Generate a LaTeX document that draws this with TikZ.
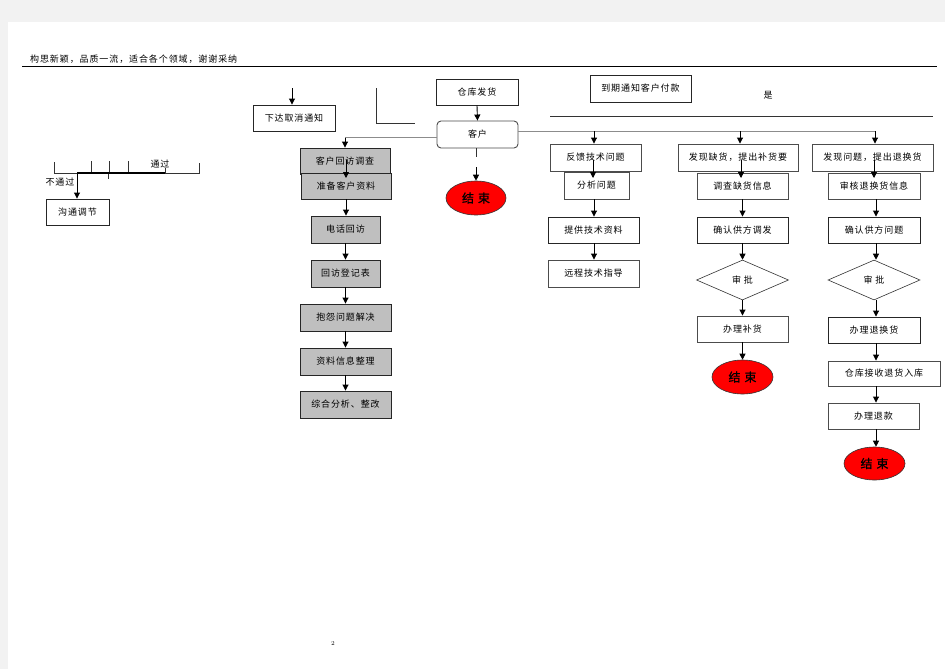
\documentclass[tikz,border=0pt]{standalone}
\usepackage{fontspec}
\newfontfamily\cjk[LetterSpace=10]{Noto Sans CJK SC}
\newfontfamily\cjkb[LetterSpace=10,FakeBold=1.2]{Noto Sans CJK SC}
\usetikzlibrary{shapes.geometric,arrows.meta}
\begin{document}
\begin{tikzpicture}[x=1pt,y=-1pt,
 box/.style={draw=black!85,line width=0.9pt,fill=white,inner sep=0pt,font=\fontsize{9}{10}\cjk},
 gbox/.style={box,fill=black!25},
 endo/.style={ellipse,draw=black!80,line width=0.6pt,fill=red,inner sep=0pt,font=\fontsize{12}{13}\cjkb},
 dia/.style={diamond,draw=black!80,line width=0.6pt,fill=white,inner sep=0pt,font=\fontsize{9}{10}\cjk},
 arr/.style={-{Triangle[length=6pt,width=6pt]},line width=0.9pt,black},
 gl/.style={line width=0.9pt,black!45},
 bl/.style={line width=0.8pt,black!80},
 txt/.style={inner sep=0pt,font=\fontsize{9}{10}\cjk}]
% page
\fill[black!5] (0,0) rectangle (945,669);
\fill[white] (8,22) rectangle (945,669);
\useasboundingbox (0,0) rectangle (945,669);
% header
\node[txt,anchor=west] (hd) at (30,59) {构思新颖，品质一流，适合各个领域，谢谢采纳};
\coordinate (h1) at (22,66); \coordinate (h2) at (937,66);
\draw[line width=0.9pt] (h1) -- (h2);
% top nodes
\node[box,minimum width=82pt,minimum height=26pt] (xd) at (294,118) {下达取消通知};
\node[box,minimum width=82pt,minimum height=26pt] (ck) at (477,92) {仓库发货};
\node[box,rounded corners=4pt,draw=black!70,minimum width=81pt,minimum height=27pt] (kh) at (477.5,134.5) {客户};
\node[box,minimum width=101pt,minimum height=27pt] (dq) at (640.5,88.5) {到期通知客户付款};
\node[txt] (shi) at (768,95) {是};
\node[endo,minimum width=60pt,minimum height=34pt] (e1) at (476,198) {结 束};
% left fragment
\node[box,minimum width=63pt,minimum height=26pt] (gt) at (77.5,212) {沟通调节};
\node[txt] (tg1) at (160,164) {通过};
\node[txt] (btg) at (60,182) {不通过};
\coordinate (f1) at (54,162); \coordinate (f2) at (54,173); \coordinate (f3) at (199,173); \coordinate (f4) at (199,163);
\draw[bl] (f1) -- (f2) -- (f3) -- (f4);
\foreach \x in {91,109,128} {\draw[bl] (\x,161) -- (\x,173);}
\draw[bl] (165,168) -- (165,173);
\draw[bl] (108,173) -- (108,179);
\coordinate (f5) at (77,173); \coordinate (f6) at (165,173);
\draw[line width=1.3pt] (f5) -- (f6);
\draw[arr] (f5) -- (f5 |- gt.north);
% other fragments
\coordinate (t1) at (292,88);
\draw[arr] (t1) -- (t1 |- xd.north);
\coordinate (g1) at (376,88); \coordinate (g2) at (376,123); \coordinate (g3) at (415,123);
\draw[bl] (g1) -- (g2) -- (g3);
\coordinate (y1) at (550,116); \coordinate (y2) at (933,116);
\draw[bl] (y1) -- (y2);
% left column
\node[gbox,minimum width=90pt,minimum height=26pt] (hf) at (345,161) {客户回访调查};
\node[gbox,minimum width=90pt,minimum height=26pt] (zb) at (346,186) {准备客户资料};
\node[gbox,minimum width=69pt,minimum height=27pt] (dh) at (345.5,229.5) {电话回访};
\node[gbox,minimum width=69pt,minimum height=27pt] (dj) at (345.5,273.5) {回访登记表};
\node[gbox,minimum width=91pt,minimum height=27pt] (bj) at (345.5,317.5) {抱怨问题解决};
\node[gbox,minimum width=91pt,minimum height=27pt] (zl) at (345.5,361.5) {资料信息整理};
\node[gbox,minimum width=91pt,minimum height=27pt] (zh) at (345.5,404.5) {综合分析、整改};
% column 1
\node[box,draw=black!70,minimum width=91pt,minimum height=27pt] (fk) at (595.5,157.5) {反馈技术问题};
\node[box,draw=black!70,minimum width=65pt,minimum height=27pt] (fx) at (596.5,185.5) {分析问题};
\node[box,minimum width=91pt,minimum height=26pt] (tj) at (593.5,230) {提供技术资料};
\node[box,draw=black!70,minimum width=91pt,minimum height=27pt] (yc) at (593.5,273.5) {远程技术指导};
% column 2
\node[box,draw=black!70,minimum width=120pt,minimum height=27pt] (fq) at (738,157.5) {发现缺货，提出补货要};
\node[box,draw=black!70,minimum width=91pt,minimum height=26pt] (dc) at (742.5,186) {调查缺货信息};
\node[box,minimum width=91pt,minimum height=26pt] (qr) at (742.5,230) {确认供方调发};
\node[dia,minimum width=92pt,minimum height=40pt] (sp1) at (742.5,280) {审\ 批};
\node[box,draw=black!70,minimum width=91pt,minimum height=26pt] (bh) at (742.5,329) {办理补货};
\node[endo,minimum width=61pt,minimum height=34pt] (e2) at (742.5,377) {结 束};
% column 3
\node[box,draw=black!70,minimum width=121pt,minimum height=27pt] (fw) at (872.5,157.5) {发现问题，提出退换货};
\node[box,draw=black!70,minimum width=92pt,minimum height=26pt] (sh) at (874,186) {审核退换货信息};
\node[box,minimum width=92pt,minimum height=26pt] (qw) at (874,230) {确认供方问题};
\node[dia,minimum width=92pt,minimum height=40pt] (sp2) at (874,280) {审\ 批};
\node[box,minimum width=92pt,minimum height=26pt] (bt) at (874,330) {办理退换货};
\node[box,draw=black!70,minimum width=112pt,minimum height=25pt] (cj) at (884,373.5) {仓库接收退货入库};
\node[box,draw=black!70,minimum width=91pt,minimum height=26pt] (bk) at (873.5,416) {办理退款};
\node[endo,minimum width=61pt,minimum height=33pt] (e3) at (874.5,463.5) {结 束};
% connectors from warehouse / customer
\draw[arr] (ck.south) -- (kh.north);
\coordinate (kl) at (345,137.5);
\draw[gl] ([yshift=-3pt]kh.west) -- (kl);
\draw[arr] (kl) -- (kl |- hf.north);
\coordinate (bus) at (875,131);
\draw[gl] ([yshift=3.5pt]kh.east) -- (bus);
\coordinate (b1) at (594,131); \coordinate (b2) at (740,131);
\draw[arr] (b1) -- (b1 |- fk.north);
\draw[arr] (b2) -- (b2 |- fq.north);
\draw[arr] (bus) -- (bus |- fw.north);
\coordinate (k1) at (476,157);
\coordinate (k2) at (476,167);
\draw[bl] (k1 |- kh.south) -- (k1);
\draw[arr] (k2) -- (k2 |- e1.north);
% left column arrows
\coordinate (o1) at (346,160); \coordinate (o2) at (346,178);
\draw[arr] (o1) -- (o2);
\draw[arr] (zb.south) -- (zb.south |- dh.north);
\draw[arr] (dh.south) -- (dh.south |- dj.north);
\draw[arr] (dj.south) -- (dj.south |- bj.north);
\draw[arr] (bj.south) -- (bj.south |- zl.north);
\draw[arr] (zl.south) -- (zl.south |- zh.north);
% column 1 arrows
\coordinate (p1) at (593,160); \coordinate (p2) at (593,178);
\draw[arr] (p1) -- (p2);
\coordinate (p3) at (594,199);
\draw[arr] (p3) -- (p3 |- tj.north);
\coordinate (p4) at (594,243);
\draw[arr] (p4) -- (p4 |- yc.north);
% column 2 arrows
\coordinate (q1) at (741,160); \coordinate (q2) at (741,178);
\draw[arr] (q1) -- (q2);
\draw[arr] (dc.south) -- (qr.north);
\draw[arr] (qr.south) -- (sp1.north);
\draw[arr] (sp1.south) -- (bh.north);
\draw[arr] (bh.south) -- (e2.north);
% column 3 arrows
\coordinate (r1) at (874,160); \coordinate (r2) at (874,178);
\draw[arr] (r1) -- (r2);
\coordinate (r3) at (876,199);
\draw[arr] (r3) -- (r3 |- qw.north);
\coordinate (r4) at (876,243);
\draw[arr] (r4) -- (r4 |- sp2.north);
\coordinate (r5) at (876,300);
\draw[arr] (r5) -- (r5 |- bt.north);
\coordinate (r6) at (876,343);
\draw[arr] (r6) -- (r6 |- cj.north);
\coordinate (r7) at (876,386);
\draw[arr] (r7) -- (r7 |- bk.north);
\coordinate (r8) at (876,429);
\draw[arr] (r8) -- (r8 |- e3.north);
% page number
\node[inner sep=0pt,font=\fontsize{6}{7}\selectfont] (pg) at (333,643) {2};
\end{tikzpicture}
\end{document}
